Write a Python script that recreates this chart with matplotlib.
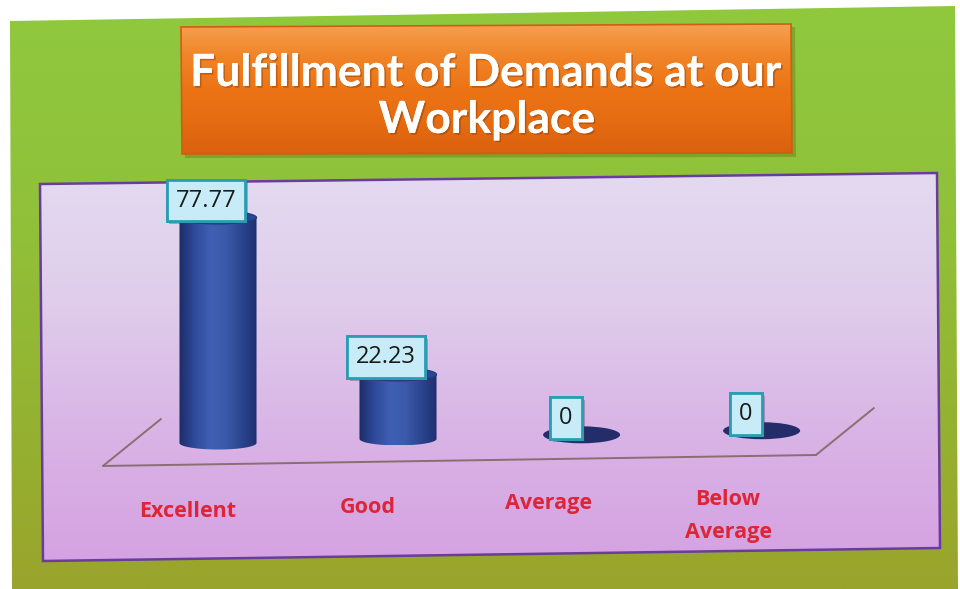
import numpy as np
import matplotlib
matplotlib.use("Agg")
import matplotlib.pyplot as plt
import matplotlib.patheffects as pe
from matplotlib.patches import Polygon, Ellipse, PathPatch
from matplotlib.path import Path
from matplotlib.colors import LinearSegmentedColormap

# ---- chart data ----
categories = ["Excellent", "Good", "Average", "Below\nAverage"]
values = [77.77, 22.23, 0, 0]
title_lines = ["Fulfillment of Demands at our", "Workplace"]

W, H = 960, 589
fig = plt.figure(figsize=(W / 100, H / 100), dpi=100)
fig.patch.set_facecolor("white")

# ---- slide background (pixel coordinates, y pointing down) ----
bg = fig.add_axes([0, 0, 1, 1])
bg.axis("off")


def gradient_poly(ax, verts, colors, vertical=True, zorder=1, ec="none", lw=0):
    cmap = LinearSegmentedColormap.from_list("grad", colors)
    clip = Polygon(verts, closed=True, facecolor="none", edgecolor="none")
    ax.add_patch(clip)
    xs = [v[0] for v in verts]
    ys = [v[1] for v in verts]
    g = np.linspace(0, 1, 256)
    grad = g.reshape(-1, 1) if vertical else g.reshape(1, -1)
    im = ax.imshow(grad, cmap=cmap, aspect="auto", interpolation="bilinear",
                   extent=(min(xs), max(xs), max(ys), min(ys)), zorder=zorder)
    im.set_clip_path(clip)
    if ec != "none":
        ax.add_patch(Polygon(verts, closed=True, facecolor="none",
                             edgecolor=ec, lw=lw, zorder=zorder + 0.1))


# green slide
gradient_poly(bg, [(10, 21), (955, 6), (958, 589), (12, 589)],
              ["#8fc83e", "#90c23a", "#94b432", "#9aa42c"], zorder=1)
# soft shadow under the title banner
bg.add_patch(Polygon([(184, 30), (795, 27), (796, 157), (185, 158)], closed=True,
                     facecolor="#5a6a10", edgecolor="none", alpha=0.35, zorder=1.5))
# orange title banner
gradient_poly(bg, [(181, 27), (791, 24), (792, 153), (182, 154)],
              ["#f5a050", "#f08428", "#ec7416", "#e66c12", "#d9600e"],
              zorder=2, ec="#cf5e12", lw=1.2)
# lavender plot panel
gradient_poly(bg, [(40, 184), (937, 173), (940, 548), (43, 561)],
              ["#e4daf0", "#dfcdeb", "#d9b4e6", "#d5a2e2"],
              zorder=2, ec="#6a3c9e", lw=1.8)

title_fx = [pe.withSimplePatchShadow(offset=(1.2, -1.2), shadow_rgbFace="#8a3a00", alpha=0.45),
            pe.Normal()]
bg.text(486, 86, title_lines[0], ha="center", va="baseline", color="white",
        fontsize=32, fontweight="bold", family="Lato", zorder=5, path_effects=title_fx)
bg.text(487, 133, title_lines[1], ha="center", va="baseline", color="white",
        fontsize=32, fontweight="bold", family="Lato", zorder=5, path_effects=title_fx)
bg.set_xlim(0, W)
bg.set_ylim(H, 0)

# ---- chart axes over the panel ----
left, right, top, bottom = 38, 940, 178, 552
ax = fig.add_axes([left / W, (H - bottom) / H, (right - left) / W, (bottom - top) / H])
ax.set_facecolor("none")
ax.axis("off")

tilt = 1.41        # rise of the floor from one category to the next
half_w = 0.214     # cylinder radius (x units)
ell_h = 2.25       # semi-height of the cylinder ellipses (y units)

# floor outline (front edge + two receding sides)
fx = np.array([-0.639, 3.322])
fy = np.array([-7.93, -4.14])
depth_dx, depth_dy = 0.322, 16.2
floor_kw = dict(color="#8a6e70", lw=1.4, zorder=1, solid_capstyle="round")
ax.plot(fx, fy, **floor_kw)
ax.plot([fx[0], fx[0] + depth_dx], [fy[0], fy[0] + depth_dy], **floor_kw)
ax.plot([fx[1], fx[1] + depth_dx], [fy[1], fy[1] + depth_dy], **floor_kw)

body_cmap = LinearSegmentedColormap.from_list(
    "cyl", ["#1c2c66", "#2f4a9c", "#3f5fb2", "#3b5aab", "#2c4590", "#1e3070"])

box_fx = [pe.withSimplePatchShadow(offset=(2, -2), shadow_rgbFace="#404060", alpha=0.35),
          pe.Normal()]

for i, v in enumerate(values):
    base = tilt * i
    if v > 0:
        t = np.linspace(np.pi, 2 * np.pi, 60)
        verts = [(i - half_w, base + v), (i - half_w, base)]
        verts += list(zip(i + half_w * np.cos(t), base + ell_h * np.sin(t)))
        verts += [(i + half_w, base + v), (i - half_w, base + v)]
        body = PathPatch(Path(verts, closed=True), facecolor="none", edgecolor="none")
        ax.add_patch(body)
        im = ax.imshow(np.linspace(0, 1, 128).reshape(1, -1), cmap=body_cmap,
                       aspect="auto", interpolation="bilinear",
                       extent=(i - half_w, i + half_w, base - ell_h, base + v), zorder=3)
        im.set_clip_path(body)
        ax.add_patch(Ellipse((i, base + v), 2 * half_w, 2 * ell_h,
                             facecolor="#2a4592", edgecolor="#22387c", lw=0.8, zorder=4))
    else:
        ax.add_patch(Ellipse((i + 0.02, base), 2 * half_w, 2 * ell_h * 1.3,
                             facecolor="#242c6a", edgecolor="none", zorder=3))

    # value label box
    lbl = ax.annotate(f"{v:g}", xy=(i, base + v), xytext=(-12 * 0.72, 17 * 0.72),
                      textcoords="offset points", ha="center", va="center",
                      fontsize=17, family="Open Sans", color="#1a1a1a", zorder=6,
                      bbox=dict(boxstyle="square,pad=0.38", facecolor="#c8ecf7",
                                edgecolor="#2a9db2", lw=2.0))
    lbl.get_bbox_patch().set_path_effects(box_fx)

    # category label
    ax.annotate(categories[i], xy=(i, base), xytext=(-30 * 0.72, -58 * 0.72),
                textcoords="offset points", ha="center", va="top",
                multialignment="center", linespacing=1.75,
                fontsize=15.5, fontweight="bold", family="Open Sans",
                color="#de2538", zorder=6)

ax.set_xlim(-1.0, 4.011)
ax.set_ylim(-37.6, 91.4)

fig.savefig("out.png", dpi=100)
